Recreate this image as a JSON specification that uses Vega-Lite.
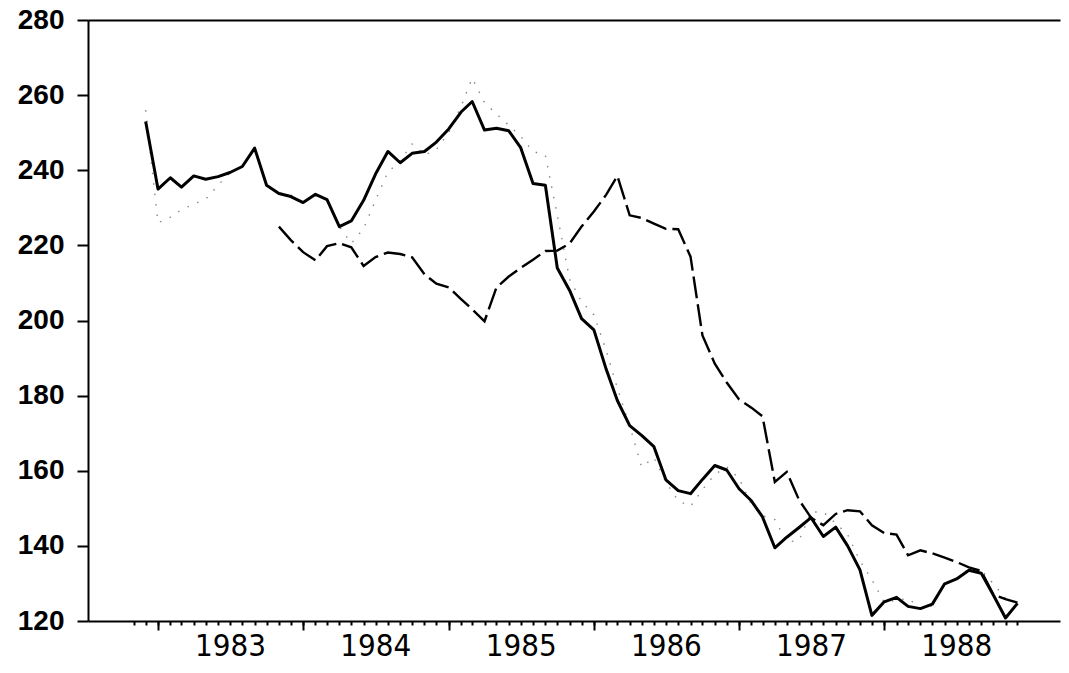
{
  "$schema": "https://vega.github.io/schema/vega-lite/v6.json",
  "width": 972,
  "height": 601,
  "autosize": "none",
  "padding": {"left": 88, "top": 20, "right": 9, "bottom": 52},
  "background": "white",
  "config": {
    "view": {"stroke": null},
    "axis": {"domainColor": "black", "tickColor": "black", "labelColor": "black", "grid": false, "title": null}
  },
  "data": {"values": [
    {"date": "1982-12-01", "a": 253, "b": null, "c": 256},
    {"date": "1983-01-01", "a": 235, "b": null, "c": 226},
    {"date": "1983-02-01", "a": 238, "b": null, "c": 227.5},
    {"date": "1983-03-01", "a": 235.5, "b": null, "c": 229.5},
    {"date": "1983-04-01", "a": 238.5, "b": null, "c": 231},
    {"date": "1983-05-01", "a": 237.6, "b": null, "c": 232.3},
    {"date": "1983-06-01", "a": 238.3, "b": null, "c": 236},
    {"date": "1983-07-01", "a": 239.4, "b": null, "c": 239.4},
    {"date": "1983-08-01", "a": 241, "b": null, "c": 241},
    {"date": "1983-09-01", "a": 245.9, "b": null, "c": 245.9},
    {"date": "1983-10-01", "a": 236, "b": null, "c": 236},
    {"date": "1983-11-01", "a": 233.8, "b": 225, "c": 234},
    {"date": "1983-12-01", "a": 233, "b": 221.4, "c": 233.4},
    {"date": "1984-01-01", "a": 231.4, "b": 218.2, "c": 231.4},
    {"date": "1984-02-01", "a": 233.6, "b": 216, "c": 233.7},
    {"date": "1984-03-01", "a": 232.2, "b": 219.8, "c": 232.2},
    {"date": "1984-04-01", "a": 225, "b": 220.6, "c": 225},
    {"date": "1984-05-01", "a": 226.5, "b": 219.5, "c": 220.5},
    {"date": "1984-06-01", "a": 232, "b": 214.5, "c": 224.5},
    {"date": "1984-07-01", "a": 239, "b": 216.9, "c": 232},
    {"date": "1984-08-01", "a": 245, "b": 218.1, "c": 239.5},
    {"date": "1984-09-01", "a": 242, "b": 217.7, "c": 242.5},
    {"date": "1984-10-01", "a": 244.5, "b": 216.8, "c": 247},
    {"date": "1984-11-01", "a": 245, "b": 212.3, "c": 244},
    {"date": "1984-12-01", "a": 247.5, "b": 209.8, "c": 245.5},
    {"date": "1985-01-01", "a": 251, "b": 208.8, "c": 250},
    {"date": "1985-02-01", "a": 255.5, "b": 205.7, "c": 257},
    {"date": "1985-03-01", "a": 258.3, "b": 203, "c": 264.5},
    {"date": "1985-04-01", "a": 250.7, "b": 199.8, "c": 258},
    {"date": "1985-05-01", "a": 251.2, "b": 208.8, "c": 255},
    {"date": "1985-06-01", "a": 250.5, "b": 211.7, "c": 252},
    {"date": "1985-07-01", "a": 246, "b": 214, "c": 249},
    {"date": "1985-08-01", "a": 236.5, "b": 216.2, "c": 245},
    {"date": "1985-09-01", "a": 236, "b": 218.5, "c": 244},
    {"date": "1985-10-01", "a": 214, "b": 218.6, "c": 228},
    {"date": "1985-11-01", "a": 208, "b": 220.5, "c": 211},
    {"date": "1985-12-01", "a": 200.5, "b": 225, "c": 205},
    {"date": "1986-01-01", "a": 197.5, "b": 229, "c": 201.5},
    {"date": "1986-02-01", "a": 187, "b": 233.5, "c": 192},
    {"date": "1986-03-01", "a": 178.7, "b": 238.5, "c": 182},
    {"date": "1986-04-01", "a": 172, "b": 228, "c": 172},
    {"date": "1986-05-01", "a": 169.4, "b": 227.3, "c": 161},
    {"date": "1986-06-01", "a": 166.4, "b": 225.8, "c": 163.5},
    {"date": "1986-07-01", "a": 157.6, "b": 224.4, "c": 157},
    {"date": "1986-08-01", "a": 154.7, "b": 224.3, "c": 152},
    {"date": "1986-09-01", "a": 153.9, "b": 217, "c": 150.5},
    {"date": "1986-10-01", "a": 157.7, "b": 196, "c": 155},
    {"date": "1986-11-01", "a": 161.4, "b": 188.5, "c": 159},
    {"date": "1986-12-01", "a": 160.2, "b": 183.5, "c": 161},
    {"date": "1987-01-01", "a": 155.2, "b": 179, "c": 158},
    {"date": "1987-02-01", "a": 152, "b": 176.8, "c": 151},
    {"date": "1987-03-01", "a": 147.7, "b": 174.5, "c": 148},
    {"date": "1987-04-01", "a": 139.5, "b": 157, "c": 147},
    {"date": "1987-05-01", "a": 142.3, "b": 159.7, "c": 141},
    {"date": "1987-06-01", "a": 144.9, "b": 152.2, "c": 141.5},
    {"date": "1987-07-01", "a": 147.5, "b": 147.5, "c": 149},
    {"date": "1987-08-01", "a": 142.5, "b": 145.5, "c": 149},
    {"date": "1987-09-01", "a": 145, "b": 148.5, "c": 146},
    {"date": "1987-10-01", "a": 140, "b": 149.5, "c": 143},
    {"date": "1987-11-01", "a": 133.6, "b": 149.2, "c": 136},
    {"date": "1987-12-01", "a": 121.5, "b": 145.5, "c": 131},
    {"date": "1988-01-01", "a": 125.1, "b": 143.4, "c": 125},
    {"date": "1988-02-01", "a": 126.3, "b": 143, "c": 125.5},
    {"date": "1988-03-01", "a": 123.9, "b": 137.5, "c": 126},
    {"date": "1988-04-01", "a": 123.3, "b": 138.8, "c": 123.5},
    {"date": "1988-05-01", "a": 124.5, "b": 138, "c": 124},
    {"date": "1988-06-01", "a": 129.9, "b": 136.9, "c": 130},
    {"date": "1988-07-01", "a": 131.2, "b": 135.7, "c": 131},
    {"date": "1988-08-01", "a": 133.5, "b": 134.3, "c": 134},
    {"date": "1988-09-01", "a": 132.7, "b": 133.3, "c": 133.5},
    {"date": "1988-10-01", "a": 127, "b": 127.1, "c": 130},
    {"date": "1988-11-01", "a": 120.8, "b": 125.8, "c": 126},
    {"date": "1988-12-01", "a": 124.7, "b": 124.9, "c": 125}
  ]},
  "resolve": {"axis": {"x": "independent"}},
  "layer": [
    {
      "mark": {"type": "line", "color": "#888888", "strokeWidth": 1.4, "strokeDash": [1.5, 9]},
      "encoding": {
        "x": {"field": "date", "type": "temporal",
          "scale": {"type": "utc", "domain": [{"year": 1982, "month": 7, "date": 9, "utc": true}, {"year": 1989, "month": 3, "date": 18, "utc": true}], "nice": false},
          "axis": {"orient": "top", "title": null, "labels": false, "ticks": false, "domain": true, "domainWidth": 2}
        },
        "y": {"field": "c", "type": "quantitative",
          "scale": {"domain": [120, 280], "nice": false, "zero": false},
          "axis": {"title": null, "values": [120, 140, 160, 180, 200, 220, 240, 260, 280],
            "tickSize": 11, "tickWidth": 2, "domainWidth": 2, "labelPadding": 13,
            "labelFont": "Liberation Sans", "labelFontSize": 28, "labelFontWeight": "bold",
            "labelOverlap": false, "labelFlush": false}
        }
      }
    },
    {
      "mark": {"type": "line", "color": "black", "strokeWidth": 2.4, "strokeDash": [22, 6]},
      "encoding": {
        "x": {"field": "date", "type": "temporal",
          "axis": {"orient": "bottom", "title": null, "labels": false, "domain": false,
            "tickSize": 4, "tickWidth": 2,
            "values": [
              {"year": 1982, "month": 11, "date": 1, "utc": true},
              {"year": 1982, "month": 12, "date": 1, "utc": true},
              {"year": 1983, "month": 1, "date": 1, "utc": true},
              {"year": 1983, "month": 2, "date": 1, "utc": true},
              {"year": 1983, "month": 3, "date": 1, "utc": true},
              {"year": 1983, "month": 4, "date": 1, "utc": true},
              {"year": 1983, "month": 5, "date": 1, "utc": true},
              {"year": 1983, "month": 6, "date": 1, "utc": true},
              {"year": 1983, "month": 7, "date": 1, "utc": true},
              {"year": 1983, "month": 8, "date": 1, "utc": true},
              {"year": 1983, "month": 9, "date": 1, "utc": true},
              {"year": 1983, "month": 10, "date": 1, "utc": true},
              {"year": 1983, "month": 11, "date": 1, "utc": true},
              {"year": 1983, "month": 12, "date": 1, "utc": true},
              {"year": 1984, "month": 1, "date": 1, "utc": true},
              {"year": 1984, "month": 2, "date": 1, "utc": true},
              {"year": 1984, "month": 3, "date": 1, "utc": true},
              {"year": 1984, "month": 4, "date": 1, "utc": true},
              {"year": 1984, "month": 5, "date": 1, "utc": true},
              {"year": 1984, "month": 6, "date": 1, "utc": true},
              {"year": 1984, "month": 7, "date": 1, "utc": true},
              {"year": 1984, "month": 8, "date": 1, "utc": true},
              {"year": 1984, "month": 9, "date": 1, "utc": true},
              {"year": 1984, "month": 10, "date": 1, "utc": true},
              {"year": 1984, "month": 11, "date": 1, "utc": true},
              {"year": 1984, "month": 12, "date": 1, "utc": true},
              {"year": 1985, "month": 1, "date": 1, "utc": true},
              {"year": 1985, "month": 2, "date": 1, "utc": true},
              {"year": 1985, "month": 3, "date": 1, "utc": true},
              {"year": 1985, "month": 4, "date": 1, "utc": true},
              {"year": 1985, "month": 5, "date": 1, "utc": true},
              {"year": 1985, "month": 6, "date": 1, "utc": true},
              {"year": 1985, "month": 7, "date": 1, "utc": true},
              {"year": 1985, "month": 8, "date": 1, "utc": true},
              {"year": 1985, "month": 9, "date": 1, "utc": true},
              {"year": 1985, "month": 10, "date": 1, "utc": true},
              {"year": 1985, "month": 11, "date": 1, "utc": true},
              {"year": 1985, "month": 12, "date": 1, "utc": true},
              {"year": 1986, "month": 1, "date": 1, "utc": true},
              {"year": 1986, "month": 2, "date": 1, "utc": true},
              {"year": 1986, "month": 3, "date": 1, "utc": true},
              {"year": 1986, "month": 4, "date": 1, "utc": true},
              {"year": 1986, "month": 5, "date": 1, "utc": true},
              {"year": 1986, "month": 6, "date": 1, "utc": true},
              {"year": 1986, "month": 7, "date": 1, "utc": true},
              {"year": 1986, "month": 8, "date": 1, "utc": true},
              {"year": 1986, "month": 9, "date": 1, "utc": true},
              {"year": 1986, "month": 10, "date": 1, "utc": true},
              {"year": 1986, "month": 11, "date": 1, "utc": true},
              {"year": 1986, "month": 12, "date": 1, "utc": true},
              {"year": 1987, "month": 1, "date": 1, "utc": true},
              {"year": 1987, "month": 2, "date": 1, "utc": true},
              {"year": 1987, "month": 3, "date": 1, "utc": true},
              {"year": 1987, "month": 4, "date": 1, "utc": true},
              {"year": 1987, "month": 5, "date": 1, "utc": true},
              {"year": 1987, "month": 6, "date": 1, "utc": true},
              {"year": 1987, "month": 7, "date": 1, "utc": true},
              {"year": 1987, "month": 8, "date": 1, "utc": true},
              {"year": 1987, "month": 9, "date": 1, "utc": true},
              {"year": 1987, "month": 10, "date": 1, "utc": true},
              {"year": 1987, "month": 11, "date": 1, "utc": true},
              {"year": 1987, "month": 12, "date": 1, "utc": true},
              {"year": 1988, "month": 1, "date": 1, "utc": true},
              {"year": 1988, "month": 2, "date": 1, "utc": true},
              {"year": 1988, "month": 3, "date": 1, "utc": true},
              {"year": 1988, "month": 4, "date": 1, "utc": true},
              {"year": 1988, "month": 5, "date": 1, "utc": true},
              {"year": 1988, "month": 6, "date": 1, "utc": true},
              {"year": 1988, "month": 7, "date": 1, "utc": true},
              {"year": 1988, "month": 8, "date": 1, "utc": true},
              {"year": 1988, "month": 9, "date": 1, "utc": true},
              {"year": 1988, "month": 10, "date": 1, "utc": true},
              {"year": 1988, "month": 11, "date": 1, "utc": true},
              {"year": 1988, "month": 12, "date": 1, "utc": true}
            ]}
        },
        "y": {"field": "b", "type": "quantitative",
          "axis": {"title": null, "values": [120, 140, 160, 180, 200, 220, 240, 260, 280],
            "tickSize": 11, "tickWidth": 2, "domainWidth": 2, "labelPadding": 13,
            "labelFont": "Liberation Sans", "labelFontSize": 28, "labelFontWeight": "bold",
            "labelOverlap": false, "labelFlush": false}
        }
      }
    },
    {
      "mark": {"type": "line", "color": "black", "strokeWidth": 3, "strokeJoin": "round"},
      "encoding": {
        "x": {"field": "date", "type": "temporal",
          "axis": {"orient": "bottom", "title": null,
            "values": [
              {"year": 1983, "month": 1, "date": 1, "utc": true},
              {"year": 1984, "month": 1, "date": 1, "utc": true},
              {"year": 1985, "month": 1, "date": 1, "utc": true},
              {"year": 1986, "month": 1, "date": 1, "utc": true},
              {"year": 1987, "month": 1, "date": 1, "utc": true},
              {"year": 1988, "month": 1, "date": 1, "utc": true}
            ],
            "format": "%Y", "formatType": "utc",
            "tickSize": 9, "tickWidth": 2, "domainWidth": 2,
            "labelOffset": 72, "labelPadding": 1,
            "labelFont": "Liberation Sans Narrow, DejaVu Sans Condensed, sans-serif",
            "labelFontSize": 31, "labelFontWeight": "normal", "labelBaseline": "top",
            "labelOverlap": false, "labelFlush": false, "labelBound": false}
        },
        "y": {"field": "a", "type": "quantitative",
          "axis": {"title": null, "values": [120, 140, 160, 180, 200, 220, 240, 260, 280],
            "tickSize": 11, "tickWidth": 2, "domainWidth": 2, "labelPadding": 13,
            "labelFont": "Liberation Sans", "labelFontSize": 28, "labelFontWeight": "bold",
            "labelOverlap": false, "labelFlush": false}
        }
      }
    }
  ]
}
